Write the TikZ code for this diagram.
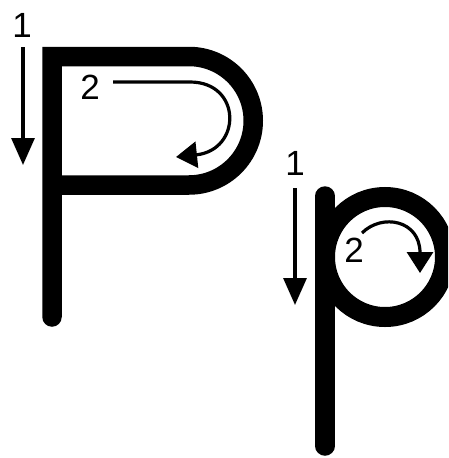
\documentclass[tikz,border=0pt]{standalone}
\usepackage{fontspec}
\setmainfont{Liberation Sans}
\usetikzlibrary{arrows.meta,positioning}
\tikzset{
  letterline/.style={line width=19.5pt,line cap=round,line join=round},
  guidearr/.style={-{Triangle[length=27pt,width=23pt]},line width=3.2pt},
  turnarr/.style={-{Triangle[length=21pt,width=26pt]},line width=3.2pt},
  stepnum/.style={font=\fontsize{35}{35}\selectfont,inner sep=0pt}
}
\begin{document}
\begin{tikzpicture}[x=1pt,y=-1pt]
  \useasboundingbox (0,0) rectangle (448,458);
  \clip (0,0) rectangle (448,458);
  % capital P
  \draw[letterline,line join=miter] (52,317) -- (52,56.5) -- (189,56.5) arc[start angle=-90,end angle=90,radius=64.25] -- (52,185);
  \node[stepnum] (bigone) at (22,25) {1};
  \coordinate (bigtop) at (23,47);
  \coordinate (bigtip) at (23,165);
  \draw[guidearr] (bigtop) -- (bigtip);
  \node[stepnum] (bigtwo) at (90,87) {2};
  \coordinate (bowlstart) at (113,82);
  \coordinate (bowlend) at (176,157);
  \draw[turnarr] (bowlstart) -- (190,82) .. controls (242,82) and (242,150) .. (bowlend);
  % small p
  \draw[letterline] (325,196) -- (325,446);
  \draw[line width=20pt] (385,257) circle[radius=60];
  \node[stepnum] (smallone) at (295,163) {1};
  \coordinate (smalltop) at (295,188);
  \coordinate (smalltip) at (295,305);
  \draw[guidearr] (smalltop) -- (smalltip);
  \node[stepnum] (smalltwo) at (354,250) {2};
  \coordinate (loopstart) at (362,233);
  \coordinate (loopend) at (420,273);
  \draw[turnarr] (loopstart) .. controls (382,213) and (420,220) .. (loopend);
\end{tikzpicture}
\end{document}
